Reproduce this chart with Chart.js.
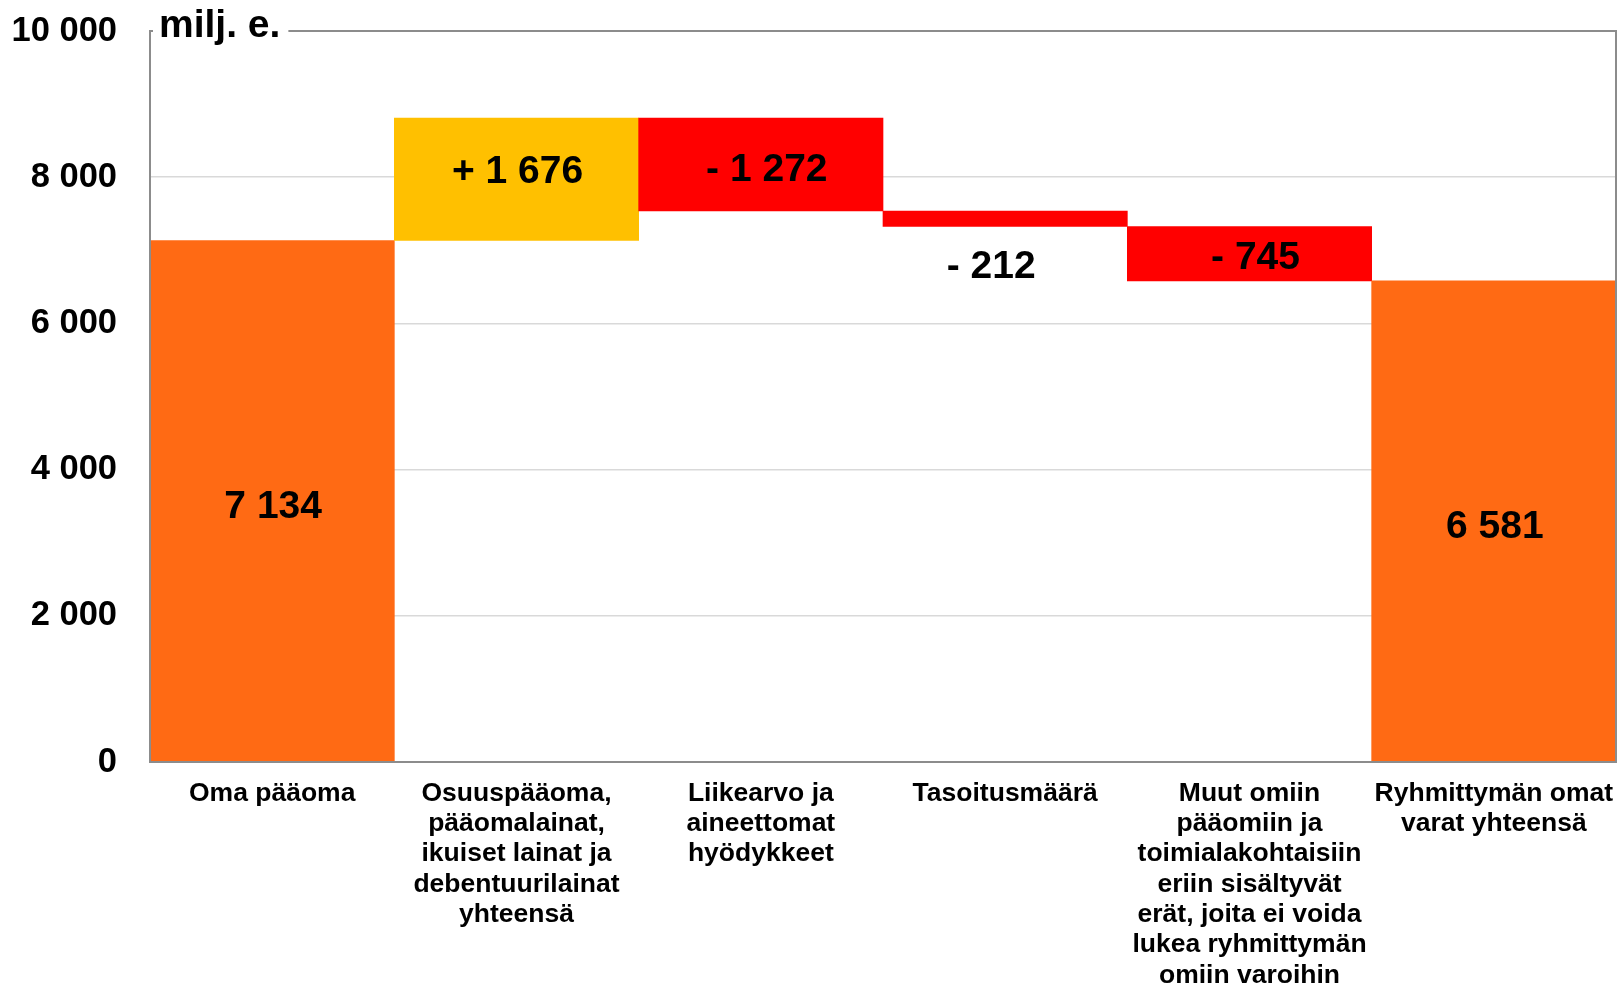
<!DOCTYPE html>
<html>
<head>
<meta charset="utf-8">
<script src="https://cdn.jsdelivr.net/npm/chart.js@4/dist/chart.umd.min.js"></script>
<style>
  html, body { margin: 0; padding: 0; background: #ffffff; }
  canvas { display: block; }
</style>
</head>
<body>
<canvas id="c" width="1619" height="989"></canvas>
<script>
// ---- data ----
const categories = [
  "Oma pääoma",
  ["Osuuspääoma,", "pääomalainat,", "ikuiset lainat ja", "debentuurilainat", "yhteensä"],
  ["Liikearvo ja", "aineettomat", "hyödykkeet"],
  "Tasoitusmäärä",
  ["Muut omiin", "pääomiin ja", "toimialakohtaisiin", "eriin sisältyvät", "erät, joita ei voida", "lukea ryhmittymän", "omiin varoihin"],
  ["Ryhmittymän omat", "varat yhteensä"]
];
const values = [7134, 1676, -1272, -212, -745, 6581];
const barKinds = ["total", "delta", "delta", "delta", "delta", "total"];
const yTickValues = [0, 2000, 4000, 6000, 8000, 10000];
const unitLabel = "milj. e.";

// ---- styles ----
const barColors = ["#FF6A14", "#FFC000", "#FF0000", "#FF0000", "#FF0000", "#FF6A14"];
const labelNudgeY = [3, -10, 3, 0, 1, 3];   // px, text offset of value labels
const labelNudgeX = [1, 1, 6, -14, 6, 1];   // px, text offset of value labels
const FONT = "'Liberation Sans', Arial, Helvetica, sans-serif";

function fmt(n) {
  return String(n).replace(/\B(?=(\d{3})+(?!\d))/g, " ");
}

// build floating ranges from the values
let running = 0;
const ranges = values.map((v, i) => {
  if (barKinds[i] === "total") { running = v; return [0, v]; }
  const r = [running, running + v];
  running += v;
  return r;
});
const labelTexts = values.map((v, i) => {
  if (barKinds[i] === "total") return fmt(v);
  return (v > 0 ? "+ " : "- ") + fmt(Math.abs(v));
});

const overlay = {
  id: "overlay",
  afterDatasetsDraw(chart) {
    const ctx = chart.ctx;
    const a = chart.chartArea;
    ctx.save();
    // plot frame
    ctx.strokeStyle = "#8c8c8c";
    ctx.lineWidth = 2;
    ctx.strokeRect(a.left, a.top, a.right - a.left, a.bottom - a.top);
    // unit label with white backing over the frame
    ctx.font = "bold 39px " + FONT;
    const w = ctx.measureText(unitLabel).width;
    ctx.fillStyle = "#ffffff";
    ctx.fillRect(a.left + 3, 0, w + 14, a.top + 3);
    ctx.fillStyle = "#000000";
    ctx.textAlign = "left";
    ctx.textBaseline = "alphabetic";
    ctx.fillText(unitLabel, a.left + 9, a.top + 6);
    // value labels (digits visually centred)
    const size = 39;
    ctx.font = "bold " + size + "px " + FONT;
    ctx.textAlign = "center";
    ctx.textBaseline = "alphabetic";
    const half = size * 0.716 / 2;
    const meta = chart.getDatasetMeta(0);
    meta.data.forEach((el, i) => {
      const top = Math.min(el.y, el.base);
      const bottom = Math.max(el.y, el.base);
      let y = (top + bottom) / 2;
      if (bottom - top < 30) y = bottom + 38;
      ctx.fillText(labelTexts[i], el.x + labelNudgeX[i], y + half + labelNudgeY[i]);
    });
    ctx.restore();
  }
};

new Chart(document.getElementById("c"), {
  type: "bar",
  data: {
    labels: categories,
    datasets: [{
      data: ranges,
      backgroundColor: barColors,
      borderWidth: 0,
      barPercentage: 1.0,
      categoryPercentage: 1.0
    }]
  },
  options: {
    responsive: false,
    animation: false,
    layout: { padding: { top: 31, right: 3, left: 0, bottom: 0 } },
    plugins: {
      legend: { display: false },
      tooltip: { enabled: false }
    },
    scales: {
      x: {
        grid: { display: false, drawTicks: false },
        border: { display: false },
        ticks: {
          autoSkip: false,
          maxRotation: 0,
          minRotation: 0,
          padding: 16,
          color: "#000000",
          font: { family: FONT, size: 26.5, weight: "bold", lineHeight: 1.147 }
        },
        afterFit(scale) { scale.height = 227; scale.paddingLeft = 0; scale.paddingRight = 0; }
      },
      y: {
        min: 0,
        max: 10000,
        afterBuildTicks(scale) { scale.ticks = yTickValues.map(v => ({ value: v })); },
        grid: { color: "#d9d9d9", lineWidth: 1.5, drawTicks: false },
        border: { display: false },
        ticks: {
          padding: 33,
          color: "#000000",
          font: { family: FONT, size: 34.5, weight: "bold" },
          callback: (v) => fmt(v)
        },
        afterFit(scale) { scale.width = 150; scale.paddingTop = 0; scale.paddingBottom = 0; }
      }
    }
  },
  plugins: [overlay]
});
</script>
</body>
</html>
